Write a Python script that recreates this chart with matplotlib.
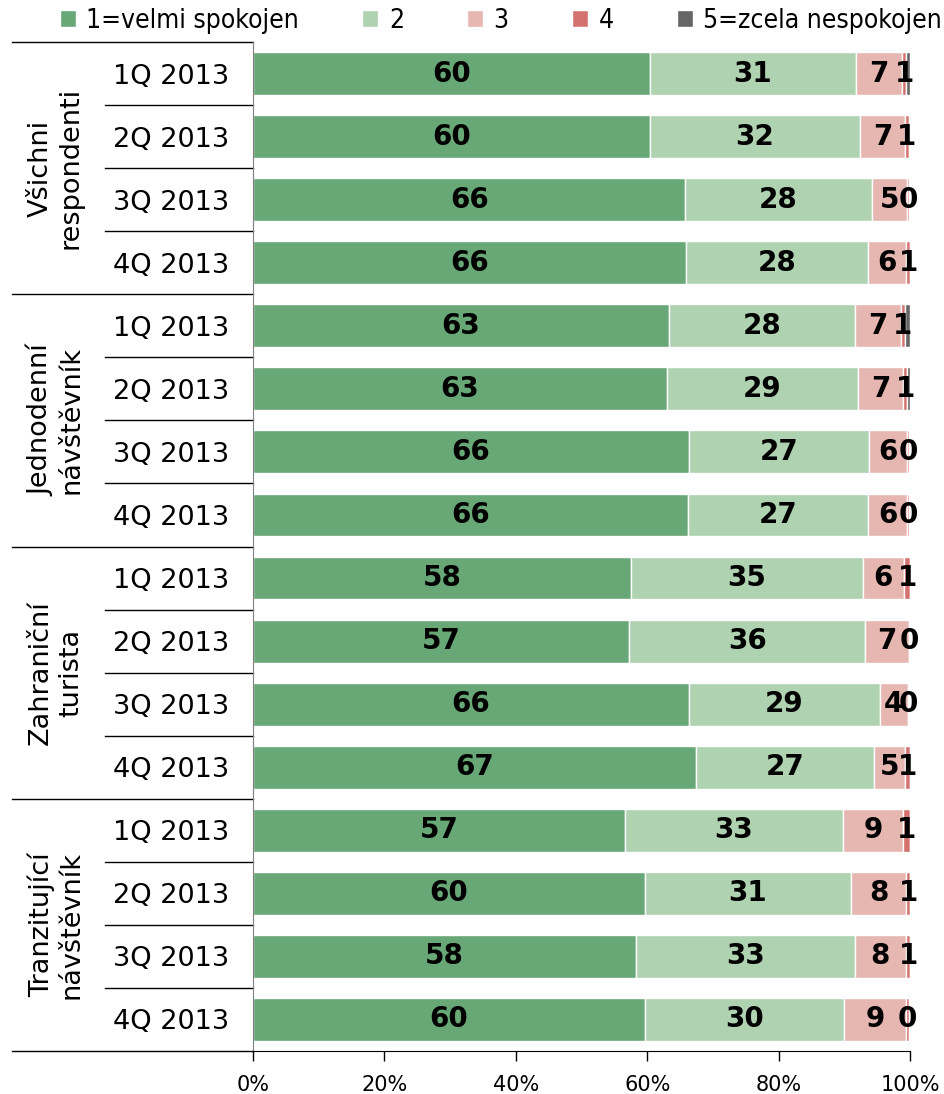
import matplotlib.pyplot as plt
import numpy as np
from matplotlib.transforms import blended_transform_factory

groups = ["Všichni\nrespondenti", "Jednodenní\nnávštěvník", "Zahraniční\nturista", "Tranzitující\nnávštěvník"]
quarters = ["1Q 2013", "2Q 2013", "3Q 2013", "4Q 2013"]
series_names = ["1=velmi spokojen", "2", "3", "4", "5=zcela nespokojen"]
colors = ["#68a776", "#afd2b1", "#e6b6b1", "#d3726e", "#666666"]

# share of answers (%), one list per rating, rows top to bottom
s1 = [60.4, 60.4, 65.8, 65.9, 63.3, 63.0, 66.4, 66.2, 57.6, 57.2, 66.4, 67.4, 56.6, 59.6, 58.3, 59.6]
s2 = [31.4, 32.0, 28.4, 27.7, 28.3, 29.1, 27.4, 27.4, 35.2, 36.0, 29.0, 27.1, 33.2, 31.4, 33.3, 30.4]
s3 = [7.0, 6.8, 5.4, 5.8, 7.0, 6.9, 5.8, 6.0, 6.3, 6.6, 4.3, 4.8, 9.1, 8.4, 7.8, 9.4]
s4 = [0.6, 0.6, 0.2, 0.6, 0.6, 0.6, 0.3, 0.3, 0.9, 0.2, 0.2, 0.7, 1.1, 0.6, 0.6, 0.4]
s5 = [0.6, 0.2, 0.2, 0.0, 0.8, 0.4, 0.1, 0.1, 0.0, 0.0, 0.1, 0.0, 0.0, 0.0, 0.0, 0.2]

data = np.array([s1, s2, s3, s4, s5])
n = data.shape[1]
y = np.arange(n)

fig = plt.figure(figsize=(9.44, 10.94), dpi=100)
ax = fig.add_axes([253 / 944, 1 - 1051 / 1094, 657 / 944, 1009 / 1094])

left = np.zeros(n)
for i in range(5):
    ax.barh(y, data[i], left=left, height=0.68, color=colors[i],
            edgecolor="white", linewidth=1.0, label=series_names[i])
    if i < 4:
        for j in range(n):
            ax.text(left[j] + data[i][j] / 2, y[j], "%.0f" % data[i][j],
                    ha="center", va="center", fontsize=20, fontweight="bold",
                    color="black")
    left += data[i]

ax.set_xlim(0, 100)
ax.set_ylim(n - 0.5, -0.5)
ax.set_xticks(np.arange(0, 101, 20))
ax.set_xticklabels(["%d%%" % v for v in range(0, 101, 20)], fontsize=15)
ax.tick_params(axis="x", length=7, width=1, pad=10)
ax.set_yticks(y)
ax.set_yticklabels(quarters * 4, fontsize=19.5)
ax.tick_params(axis="y", length=0, pad=17)

for side in ["top", "right"]:
    ax.spines[side].set_visible(False)
ax.spines["left"].set_color("#808080")
ax.spines["bottom"].set_color("black")

# category separators on the left
tr = blended_transform_factory(ax.transAxes, ax.transData)
for b in [-0.5, 3.5, 7.5, 11.5, 15.5]:
    ax.plot([-241 / 657, 0], [b, b], transform=tr, color="black", lw=1, clip_on=False)
for g in range(4):
    for k in range(1, 4):
        b = g * 4 + k - 0.5
        ax.plot([-148 / 657, 0], [b, b], transform=tr, color="black", lw=1, clip_on=False)
    ax.text(-197 / 657, g * 4 + 1.5, groups[g], transform=tr, rotation=90,
            ha="center", va="center", fontsize=19.5, linespacing=1.2)

ax.legend(loc="center", bbox_to_anchor=(501 / 944, 1 - 21 / 1094), bbox_transform=fig.transFigure,
          ncol=5, frameon=False, handlelength=0.6, handleheight=0.6, handletextpad=0.4,
          columnspacing=2.4, prop={"family": "DejaVu Sans", "stretch": "condensed", "size": 19})

fig.savefig("out.png", dpi=100)
